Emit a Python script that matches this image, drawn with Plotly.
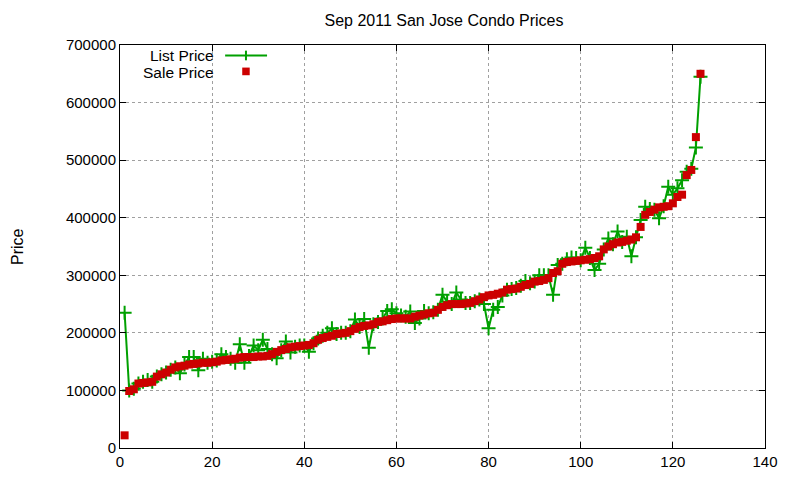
import plotly.graph_objects as go

# listing index (1..126), sorted by sale price
idx = list(range(1, 127))

sale_price = [
    22000, 99000, 102000, 112000, 113000, 114000, 115000, 124000, 128000, 131000,
    136000, 140000, 142000, 143000, 145000, 146000, 147000, 148000, 148000, 149000,
    150000, 152000, 153000, 154000, 155000, 157000, 158000, 158000, 158000, 159000,
    159000, 160000, 163000, 167000, 170000, 172000, 175000, 176000, 177000, 178000,
    179000, 182000, 188000, 191000, 193000, 195000, 198000, 199000, 200000, 203000,
    207000, 210000, 212000, 213000, 215000, 219000, 220000, 222000, 224000, 225000,
    225000, 225000, 225000, 228000, 230000, 232000, 234000, 235000, 240000, 245000,
    248000, 250000, 250000, 250000, 251000, 252000, 255000, 258000, 262000, 265000,
    266000, 268000, 270000, 275000, 276000, 277000, 280000, 283000, 285000, 289000,
    290000, 292000, 295000, 304000, 307000, 320000, 323000, 324000, 325000, 326000,
    327000, 328000, 330000, 333000, 345000, 350000, 354000, 357000, 358000, 360000,
    362000, 366000, 384000, 405000, 410000, 414000, 418000, 419000, 420000, 425000,
    436000, 440000, 474000, 483000, 540000, 650000,
]

list_price = [
    235000, 100000, 103000, 112000, 115000, 118000, 115000, 124000, 128000, 131000,
    136000, 140000, 130000, 145000, 158000, 158000, 135000, 155000, 148000, 150000,
    152000, 163000, 158000, 155000, 148000, 180000, 148000, 160000, 178000, 170000,
    188000, 172000, 163000, 156000, 170000, 185000, 166000, 176000, 178000, 178000,
    167000, 182000, 190000, 195000, 200000, 208000, 198000, 200000, 200000, 203000,
    223000, 210000, 224000, 174000, 215000, 219000, 225000, 238000, 241000, 234000,
    230000, 228000, 237000, 217000, 225000, 238000, 234000, 236000, 240000, 266000,
    254000, 250000, 270000, 258000, 252000, 252000, 255000, 258000, 250000, 208000,
    240000, 245000, 265000, 275000, 276000, 278000, 282000, 290000, 286000, 289000,
    300000, 300000, 300000, 266000, 318000, 320000, 328000, 331000, 330000, 326000,
    348000, 330000, 309000, 320000, 345000, 364000, 354000, 376000, 358000, 367000,
    333000, 366000, 396000, 419000, 415000, 414000, 399000, 420000, 454000, 440000,
    451000, 465000, 480000, 485000, 522000, 645000,
]

GREEN = "#00a000"
RED = "#cc0000"
FONT = "Liberation Sans"

fig = go.Figure()

fig.add_trace(go.Scatter(
    x=idx, y=list_price, mode="lines+markers", name="List Price",
    line=dict(color=GREEN, width=2),
    marker=dict(symbol="cross-thin", size=10, line=dict(color=GREEN, width=2)),
))
fig.add_trace(go.Scatter(
    x=idx, y=sale_price, mode="markers", name="Sale Price",
    marker=dict(symbol="square", size=8, color=RED, line=dict(width=0)),
))

axis_common = dict(
    showline=True, linecolor="black", linewidth=1, mirror="allticks",
    ticks="inside", ticklen=6, tickcolor="black",
    showgrid=True, gridcolor="#a0a0a0", gridwidth=1, griddash="dot",
    zeroline=False, tickfont=dict(family=FONT, size=15, color="black"),
)

fig.update_xaxes(range=[0, 140], dtick=20, **axis_common)
fig.update_yaxes(range=[0, 700000], dtick=100000, tickformat="d", **axis_common)

# gnuplot-style key: text on the left, sample on the right
legend_shapes = [
    dict(type="line", xref="paper", yref="paper", x0=0.163, x1=0.228, y0=0.974, y1=0.974,
         line=dict(color=GREEN, width=2)),
    dict(type="line", xref="paper", yref="paper", x0=0.1953, x1=0.1953, y0=0.962, y1=0.986,
         line=dict(color=GREEN, width=2)),
    dict(type="rect", xref="paper", yref="paper", x0=0.1895, x1=0.2011, y0=0.925, y1=0.944,
         fillcolor=RED, line=dict(width=0)),
]

fig.update_layout(
    width=800, height=480,
    # page body has an 8px margin, so the margins are shifted to compensate
    margin=dict(l=112, r=43, t=37, b=40),
    paper_bgcolor="white", plot_bgcolor="white",
    showlegend=False,
    font=dict(family=FONT, size=15, color="black"),
    title=dict(text="Sep 2011 San Jose Condo Prices", x=0.545, xanchor="center",
               y=0.975, yanchor="middle", font=dict(family=FONT, size=16, color="black")),
    shapes=legend_shapes,
    annotations=[
        dict(text="List Price", xref="paper", yref="paper", x=0.149, y=0.974,
             xanchor="right", yanchor="middle", showarrow=False,
             font=dict(family=FONT, size=15.5)),
        dict(text="Sale Price", xref="paper", yref="paper", x=0.149, y=0.932,
             xanchor="right", yanchor="middle", showarrow=False,
             font=dict(family=FONT, size=15.5)),
        dict(text="Price", xref="paper", yref="paper", x=-0.159, y=0.5,
             xanchor="center", yanchor="middle", textangle=-90, showarrow=False,
             font=dict(family=FONT, size=16)),
    ],
)

fig.write_html("out.html")
